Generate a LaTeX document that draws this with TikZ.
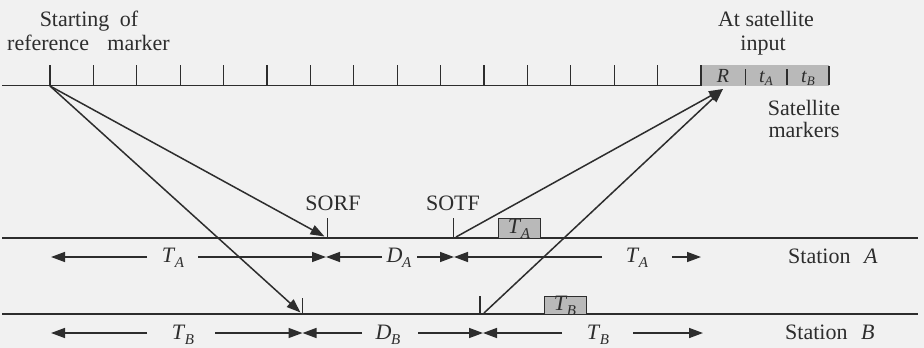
\documentclass[tikz,border=0pt]{standalone}
\usepackage{fontspec}
\setmainfont{Liberation Serif}
\usetikzlibrary{arrows.meta}
\definecolor{linec}{RGB}{45,45,45}
\definecolor{boxc}{RGB}{185,185,185}
\definecolor{bgc}{RGB}{241,241,241}
\newcommand{\Sb}[2]{\textit{#1}\kern-0.5pt\raisebox{-5pt}{\fontsize{15}{15}\selectfont\textit{#2}}}
\newcommand{\Sbs}[2]{\textit{#1}\kern-0.3pt\raisebox{-3.5pt}{\fontsize{13}{13}\selectfont\textit{#2}}}
\begin{document}
\begin{tikzpicture}[x=1pt,y=-1pt,
  ln/.style={draw=linec,line width=1.5pt},
  arr/.style={ln,-{Triangle[length=14pt,width=10pt]}},
  tickln/.style={draw=linec,line width=1.1pt},
  txt/.style={font=\rmfamily\fontsize{22}{24}\selectfont,text=linec,inner sep=0pt,anchor=base},
  smalltxt/.style={font=\rmfamily\fontsize{20}{22}\selectfont,text=linec,inner sep=0pt,anchor=base},
  graybox/.style={fill=boxc,draw=linec,line width=0.7pt}]
\fill[bgc] (0,0) rectangle (924,348);
\useasboundingbox (0,0) rectangle (924,348);

% ---- top (reference) line ----
\coordinate (L0) at (2,85.5);
\coordinate (L1) at (701,85.5);
\fill[boxc] (701,65) rectangle (829,86);
\draw[ln] (L0) -- (L1);
\foreach \i in {0,...,15} \draw[tickln] ({50+43.4*\i},65) -- ({50+43.4*\i},85.5);
\draw[tickln] (745.5,69) -- (745.5,85);
\draw[tickln] (787,69) -- (787,85);
\draw[tickln] (829,66) -- (829,85);
\node[smalltxt] (Rl) at (723,82) {\textit{R}};
\node[smalltxt] (tAl) at (766,82) {\Sbs{t}{A}};
\node[smalltxt] (tBl) at (808,82) {\Sbs{t}{B}};

\node[txt] (st1) at (89,27) {Starting\hspace{5pt} of};
\node[txt] (st2) at (88.5,50) {reference\hspace{13pt} marker};
\node[txt] (sat1) at (766,27) {At satellite};
\node[txt] (sat2) at (763,50) {input};
\node[txt] (sm1) at (804,115) {Satellite};
\node[txt] (sm2) at (804,137) {markers};

% ---- station lines ----
\coordinate (A0) at (2,238);
\coordinate (A1) at (918,238);
\coordinate (B0) at (2,314);
\coordinate (B1) at (918,314);
\draw[ln] (A0) -- (A1);
\draw[ln] (B0) -- (B1);

\draw[tickln] (327.5,218) -- (327.5,238);
\draw[tickln] (453.5,218) -- (453.5,238);
\draw[tickln] (302.5,298) -- (302.5,314);
\draw[tickln] (480,296) -- (480,314);
\draw[graybox] (498,238) rectangle (540,218);
\draw[graybox] (544,314) rectangle (586,296);
\node[txt] (TAbox) at (519,233) {\Sb{T}{A}};
\node[txt] (TBbox) at (565,310) {\Sb{T}{B}};
\node[txt] (sorf) at (333,210) {SORF};
\node[txt] (sotf) at (453,210) {SOTF};

\node[txt,anchor=base west] (stA) at (788,263) {Station\hspace{8pt} \textit{A}};
\node[txt,anchor=base west] (stB) at (785,339) {Station\hspace{8pt} \textit{B}};

% ---- signal paths ----
\coordinate (ref) at (50,86);
\coordinate (R) at (723,89);
\coordinate (sorfTip) at (324.5,236.5);
\coordinate (bTip) at (300.5,312.5);
\coordinate (sotfB) at (456,237);
\coordinate (bB) at (484,313);
\draw[arr] (ref) -- (sorfTip);
\draw[arr] (ref) -- (bTip);
\draw[arr] (sotfB) -- (R);
\draw[arr] (bB) -- (R);

% ---- dimension row A ----
\coordinate (a0) at (51,257);   \coordinate (a1) at (147,257);
\coordinate (a2) at (198,257);  \coordinate (a3) at (326,257);
\coordinate (a4) at (382,257);  \coordinate (a5) at (417,257);
\coordinate (a6) at (454,257);  \coordinate (a7) at (602,257);
\coordinate (a8) at (672,257);  \coordinate (a9) at (701,257);
\draw[arr] (a1) -- (a0);
\draw[arr] (a2) -- (a3);
\draw[arr] (a4) -- (a3);
\draw[arr] (a5) -- (a6);
\draw[arr] (a7) -- (a6);
\draw[arr] (a8) -- (a9);
\node[txt] (TA1) at (173,262) {\Sb{T}{A}};
\node[txt] (DA) at (399,262) {\Sb{D}{A}};
\node[txt] (TA2) at (637,262) {\Sb{T}{A}};

% ---- dimension row B ----
\coordinate (b0) at (51,333);   \coordinate (b1) at (147,333);
\coordinate (b2) at (215,333);  \coordinate (b3) at (302.5,333);
\coordinate (b4) at (362,333);  \coordinate (b5) at (418,333);
\coordinate (b6) at (483,333);  \coordinate (b7) at (562,333);
\coordinate (b8) at (633,333);  \coordinate (b9) at (703,333);
\draw[arr] (b1) -- (b0);
\draw[arr] (b2) -- (b3);
\draw[arr] (b4) -- (b3);
\draw[arr] (b5) -- (b6);
\draw[arr] (b7) -- (b6);
\draw[arr] (b8) -- (b9);
\node[txt] (TB1) at (183,339) {\Sb{T}{B}};
\node[txt] (DB) at (388,339) {\Sb{D}{B}};
\node[txt] (TB2) at (598,339) {\Sb{T}{B}};
\end{tikzpicture}
\end{document}
